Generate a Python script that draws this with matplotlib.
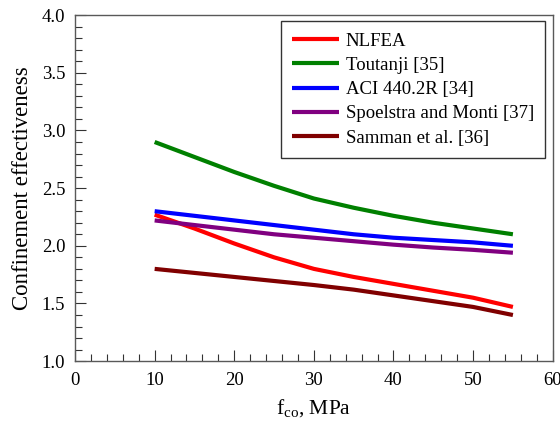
import matplotlib
matplotlib.use("Agg")
import matplotlib.pyplot as plt
from matplotlib.ticker import MultipleLocator, FormatStrFormatter

plt.rcParams['font.family'] = ['Liberation Serif', 'DejaVu Serif']
plt.rcParams['mathtext.fontset'] = 'custom'
plt.rcParams['mathtext.rm'] = 'Liberation Serif'

fco = [10, 15, 20, 25, 30, 35, 40, 45, 50, 55]
nlfea = [2.27, 2.15, 2.02, 1.90, 1.80, 1.73, 1.67, 1.61, 1.55, 1.47]
toutanji = [2.90, 2.77, 2.64, 2.52, 2.41, 2.33, 2.26, 2.20, 2.15, 2.10]
aci = [2.30, 2.26, 2.22, 2.18, 2.14, 2.10, 2.07, 2.05, 2.03, 2.00]
spoelstra = [2.22, 2.18, 2.14, 2.10, 2.07, 2.04, 2.01, 1.985, 1.965, 1.94]
samman = [1.80, 1.765, 1.73, 1.695, 1.66, 1.62, 1.57, 1.52, 1.47, 1.40]

series = [
    ("NLFEA", nlfea, "#ff0000"),
    ("Toutanji [35]", toutanji, "#008000"),
    ("ACI 440.2R [34]", aci, "#0000ff"),
    ("Spoelstra and Monti [37]", spoelstra, "#800080"),
    ("Samman et al. [36]", samman, "#800000"),
]

fig = plt.figure(figsize=(5.6, 4.32), dpi=100)
ax = fig.add_axes([0.134, 0.164, 0.853, 0.801])
for name, vals, c in series:
    ax.plot(fco, vals, color=c, lw=3, label=name, solid_capstyle='butt',
            solid_joinstyle='round')

ax.set_xlim(0, 60)
ax.set_ylim(1.0, 4.0)
ax.xaxis.set_major_locator(MultipleLocator(10))
ax.xaxis.set_minor_locator(MultipleLocator(2))
ax.yaxis.set_major_locator(MultipleLocator(0.5))
ax.yaxis.set_minor_locator(MultipleLocator(0.1))
ax.yaxis.set_major_formatter(FormatStrFormatter('%.1f'))
ax.tick_params(which='both', direction='in', top=False, right=False,
               labelsize=13.5, colors='0.2')
ax.tick_params(which='major', length=8, width=0.8)
ax.tick_params(which='minor', length=5, width=0.8)
ax.tick_params(axis='both', labelcolor='black')
ax.tick_params(axis='x', pad=8)
ax.tick_params(axis='y', pad=7)
for s in ax.spines.values():
    s.set_color('0.35')
    s.set_linewidth(1.0)

ax.set_xlabel(r'f$_{\mathregular{co}}$, MPa', fontsize=15.5, labelpad=6)
ax.set_ylabel('Confinement effectiveness', fontsize=16.5, labelpad=6)

leg = ax.legend(loc='upper right', fontsize=13.5, frameon=True, fancybox=False,
                edgecolor='black', handlelength=2.5, handletextpad=0.35,
                borderpad=0.6, labelspacing=0.38,
                bbox_to_anchor=(0.984, 0.982), borderaxespad=0)
leg.get_frame().set_linewidth(1.0)

fig.savefig('out.png', dpi=100)
